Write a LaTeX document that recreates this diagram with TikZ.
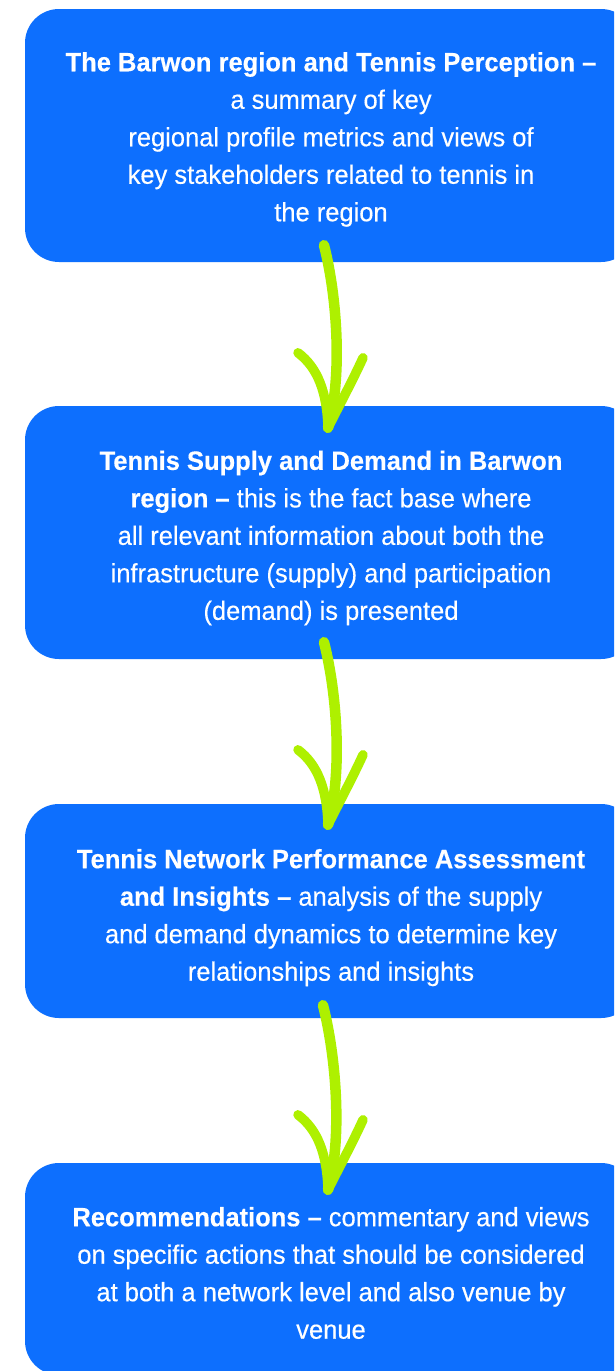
\documentclass[tikz,border=0pt]{standalone}
\usepackage{fontspec}
\setmainfont{Liberation Sans}[FakeStretch=0.962, FakeBold=0.35]
\usetikzlibrary{calc}
\definecolor{boxblue}{RGB}{13,111,254}
\definecolor{limegreen}{RGB}{174,240,0}
\tikzset{
  stagebox/.style={rectangle, rounded corners=34pt, fill=boxblue, draw=none, inner sep=0pt, minimum width=610pt},
  stagetext/.style={align=center, text=white, inner sep=0pt, font=\fontsize{26.5}{37.5}\selectfont},
  arrowline/.style={draw=limegreen, line width=10.5pt, line cap=round, line join=round},
  headline/.style={draw=limegreen, line width=9.5pt, line cap=round, line join=round}
}
\newcommand\greenarrow[2]{%
  \draw[arrowline] (#1) .. controls ($(#1)+(14,55)$) and ($(#2)+(14,-48)$) .. (#2);
  \draw[headline] ($(#2)+(-30,-75)$) .. controls ($(#2)+(-10,-60)$) and ($(#2)+(-1,-35)$) .. (#2);
  \draw[headline] ($(#2)+(35,-70)$) .. controls ($(#2)+(25,-48)$) and ($(#2)+(10,-20)$) .. (#2);
}
\begin{document}
\begin{tikzpicture}[x=1pt,y=-1pt]
\useasboundingbox (0,0) rectangle (614,1371);
\fill[white] (0,0) rectangle (614,1371);
\clip (0,0) rectangle (614,1371);

\node[stagebox, minimum height=253pt] (b1) at (330,135.5) {};
\node[stagebox, minimum height=253pt] (b2) at (330,532.5) {};
\node[stagebox, minimum height=214pt] (b3) at (330,911) {};
\node[stagebox, minimum height=212pt] (b4) at (330,1269) {};

\node[stagetext] (t1) at (331,139.4) {\textbf{The Barwon region and Tennis Perception –}\\a summary of key\\regional profile metrics and views of\\key stakeholders related to tennis in\\the region};
\node[stagetext] (t2) at (331,538) {\textbf{Tennis Supply and Demand in Barwon}\\\textbf{region –} this is the fact base where\\all relevant information about both the\\infrastructure (supply) and participation\\(demand) is presented};
\node[stagetext] (t3) at (331,917.6) {\textbf{Tennis Network Performance Assessment}\\\textbf{and Insights –} analysis of the supply\\and demand dynamics to determine key\\relationships and insights};
\node[stagetext] (t4) at (331,1273) {\textbf{Recommendations –} commentary and views\\on specific actions that should be considered\\at both a network level and also venue by\\venue};

\coordinate (s1) at ($(b1.south)+(-6,-17)$);
\coordinate (e1) at ($(b2.north)+(-2,22)$);
\coordinate (s2) at ($(b2.south)+(-6,-17)$);
\coordinate (e2) at ($(b3.north)+(-2,21)$);
\coordinate (s3) at ($(b3.south)+(-7,-13)$);
\coordinate (e3) at ($(b4.north)+(-2,27)$);

\greenarrow{s1}{e1}
\greenarrow{s2}{e2}
\greenarrow{s3}{e3}
\end{tikzpicture}
\end{document}
